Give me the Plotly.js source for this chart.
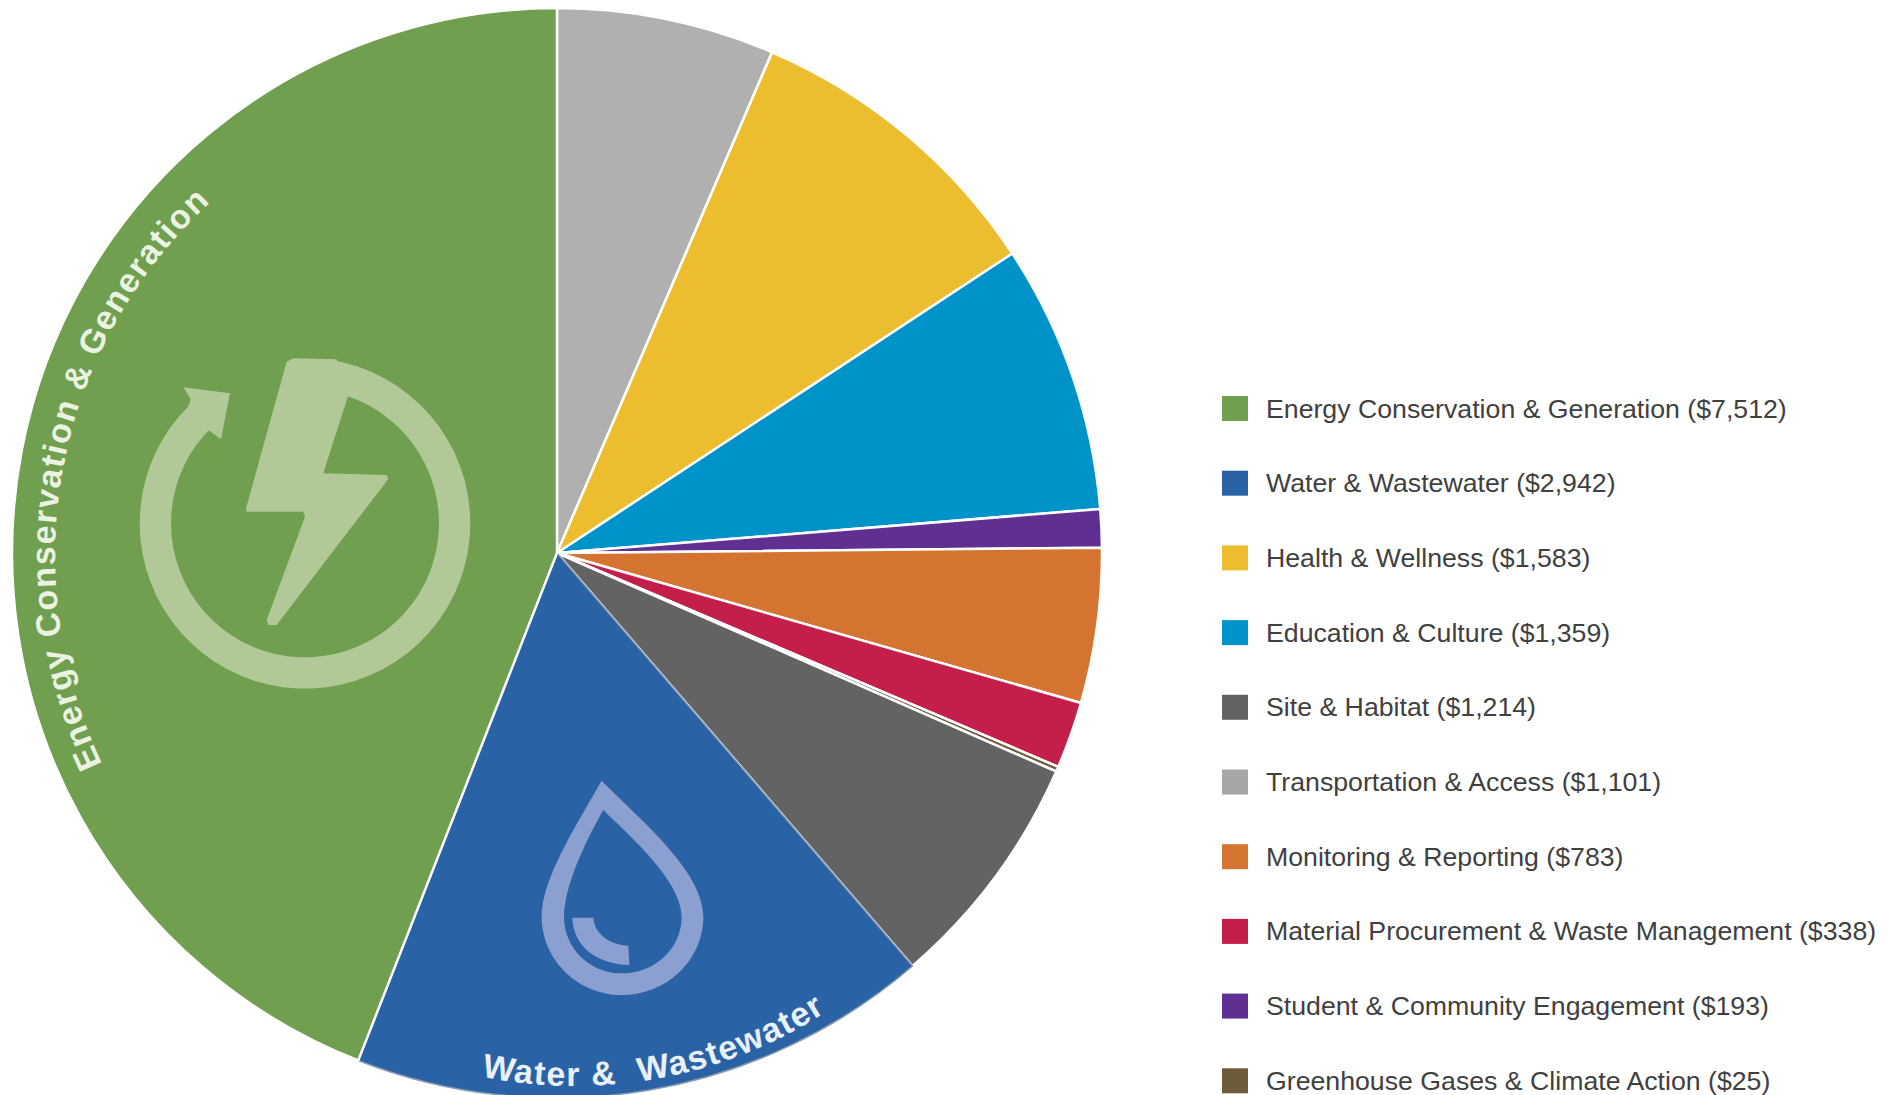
<!DOCTYPE html>
<html>
<head>
<meta charset="utf-8">
<script src="https://cdn.plot.ly/plotly-3.0.1.min.js"></script>
<style>
html,body{margin:0;padding:0;background:#fff;overflow:hidden;width:1896px;height:1095px}
#chart{position:absolute;left:0;top:0;width:1896px;height:1110px}
</style>
</head>
<body>
<div id="chart"></div>
<script>
// Slice order, clockwise from 12 o'clock
const sliceLabels = ["Transportation & Access","Health & Wellness","Education & Culture","Student & Community Engagement","Monitoring & Reporting","Material Procurement & Waste Management","Greenhouse Gases & Climate Action","Site & Habitat","Water & Wastewater","Energy Conservation & Generation"];
const sliceValues = [1101,1583,1359,193,783,338,25,1214,2942,7512];
const sliceColors = ["#b0b0b0","#ebbd2f","#0093c9","#5f2f91","#d57430","#c41e4a","#6f5a3a","#636363","#2a62a6","#6f9f4f"];
const sliceLineColors = ["#ffffff","#ffffff","#ffffff","#ffffff","#ffffff","#ffffff","#ffffff","#ffffff","#8a9bb0","#ffffff"];
const sliceLineWidths = [2.5,2.5,2.5,2.5,2.5,2.5,2.5,2.5,1.5,2.5];
// Legend order, largest first
const legendLabels = ["Energy Conservation & Generation ($7,512)","Water & Wastewater ($2,942)","Health & Wellness ($1,583)","Education & Culture ($1,359)","Site & Habitat ($1,214)","Transportation & Access ($1,101)","Monitoring & Reporting ($783)","Material Procurement & Waste Management ($338)","Student & Community Engagement ($193)","Greenhouse Gases & Climate Action ($25)"];
const legendColors = ["#6f9f4f","#2a62a6","#ebbd2f","#0093c9","#636363","#a6a6a6","#d57430","#c41e4a","#5f2f91","#6f5a3a"];

const W=1896,H=1110;
const cx=557,cy=553,r=545;
const fx=x=>x/W, fy=y=>1-y/H;
const P=(x,y)=>fx(x).toFixed(5)+','+fy(y).toFixed(5);

function iconPath(cmds,ox,oy,s){
  return cmds.map(c=>{
    const pts=[];for(let i=1;i<c.length;i+=2)pts.push(P(ox+c[i]/s,oy+c[i+1]/s));
    return c[0]+pts.join(' ');
  }).join(' ');
}
const E=(cmds)=>iconPath(cmds,120,330,3);
const D=(cmds)=>iconPath(cmds,450,760,3);
function annulus(zx,zy,ro,ri,a1,a2){
  const c=[];const n=60;
  for(let i=0;i<=n;i++){const a=(a1+(a2-a1)*i/n)*Math.PI/180;c.push([i?'L':'M',zx+ro*Math.sin(a),zy-ro*Math.cos(a)]);}
  for(let i=n;i>=0;i--){const a=(a1+(a2-a1)*i/n)*Math.PI/180;c.push(['L',zx+ri*Math.sin(a),zy-ri*Math.cos(a)]);}
  c.push(['Z']);return c;
}
const green="#b1c897", bluei="#8c9fd1";
const shapes=[
 {type:'path',xref:'paper',yref:'paper',path:E(annulus(555,580,496,402,8,316)),fillcolor:green,line:{width:0}},
 {type:'path',xref:'paper',yref:'paper',fillcolor:green,line:{width:0},path:E([['M',190,172],['L',330,190],['L',303,328],['L',262,298],['L',205,228],['L',212,208],['Z']])},
 {type:'path',xref:'paper',yref:'paper',fillcolor:green,line:{width:0},path:E([['M',500,95],['L',520,85],['L',650,88],['L',685,195],['L',610,430],['L',800,435],['L',805,447],['L',470,885],['L',445,885],['L',440,870],['L',555,560],['L',550,545],['L',380,545],['L',378,535],['Z']])},
 {type:'path',xref:'paper',yref:'paper',fillcolor:bluei,fillrule:'evenodd',line:{width:0},path:D([['M',455,62],['C',560,170,760,330,760,470],['C',760,600,650,705,515,705],['C',385,705,275,600,275,470],['C',275,360,370,210,455,62],['Z'],['M',460,150],['C',530,220,695,360,695,470],['C',695,565,615,640,515,640],['C',420,640,342,565,342,470],['C',342,385,400,255,460,150],['Z']])},
 {type:'path',xref:'paper',yref:'paper',fillcolor:bluei,line:{width:0},path:D([['M',367,473],['L',430,473],['C',432,520,480,555,535,557],['L',538,615],['C',440,612,370,560,367,473],['Z']])}
];
const annotations=[];
const rowY=i=>408.5+i*74.7;
legendLabels.forEach((t,i)=>{
  shapes.push({type:'rect',xref:'paper',yref:'paper',x0:fx(1222),x1:fx(1248),y0:fy(rowY(i)-12.5),y1:fy(rowY(i)+12.5),fillcolor:legendColors[i],line:{width:0}});
  annotations.push({xref:'paper',yref:'paper',x:fx(1263.5),y:fy(rowY(i)),xanchor:'left',yanchor:'middle',showarrow:false,align:'left',text:t.replace(/&/g,'&amp;'),font:{family:'"Liberation Sans",Arial,sans-serif',size:26.7,color:'#404040'}});
});

const data=[{type:'pie',labels:sliceLabels,values:sliceValues,sort:false,direction:'clockwise',rotation:0,
  marker:{colors:sliceColors,line:{color:sliceLineColors,width:sliceLineWidths}},textinfo:'none',showlegend:false,hoverinfo:'label+value',
  domain:{x:[(cx-r)/W,(cx+r)/W],y:[1-(cy+r)/H,1-(cy-r)/H]}}];
const layout={width:W,height:H,margin:{l:0,r:0,t:0,b:0},paper_bgcolor:'#fff',showlegend:false,shapes,annotations};

Plotly.newPlot('chart',data,layout,{displayModeBar:false,staticPlot:true}).then(gd=>{
  // Curved labels inside the pie, as real SVG text along circular paths
  const NS='http://www.w3.org/2000/svg';
  const svgs=gd.querySelectorAll('svg.main-svg');
  const svg=svgs[svgs.length-1];
  const defs=document.createElementNS(NS,'defs');svg.appendChild(defs);
  function curved(id,text,ax,ay,R,a1,a2,sweep,size,fill){
    const pol=d=>{const a=d*Math.PI/180;return [ax+R*Math.sin(a),ay-R*Math.cos(a)];};
    const p=document.createElementNS(NS,'path');
    const s=pol(a1),e=pol(a2);
    p.setAttribute('id',id);p.setAttribute('d',`M${s[0]},${s[1]} A${R},${R} 0 0 ${sweep} ${e[0]},${e[1]}`);
    defs.appendChild(p);
    const t=document.createElementNS(NS,'text');
    t.setAttribute('font-family','"Liberation Sans",Arial,sans-serif');t.setAttribute('font-size',size);
    t.setAttribute('font-weight','700');t.setAttribute('fill',fill);
    const tp=document.createElementNS(NS,'textPath');tp.setAttribute('href','#'+id);tp.textContent=text;
    t.appendChild(tp);svg.appendChild(t);
    const target=Math.abs(a2-a1)*Math.PI/180*R;
    const len=t.getComputedTextLength();
    t.setAttribute('letter-spacing',((target-len)/text.length).toFixed(3));
  }
  curved('arcE','Energy Conservation & Generation',535,556,480,244.3,317.6,1,34,'#eaf2e2');
  curved('arcW','Water & \u00A0Wastewater',575,624,462,191.7,147,0,34,'#e8f0fa');
});
</script>
</body>
</html>
